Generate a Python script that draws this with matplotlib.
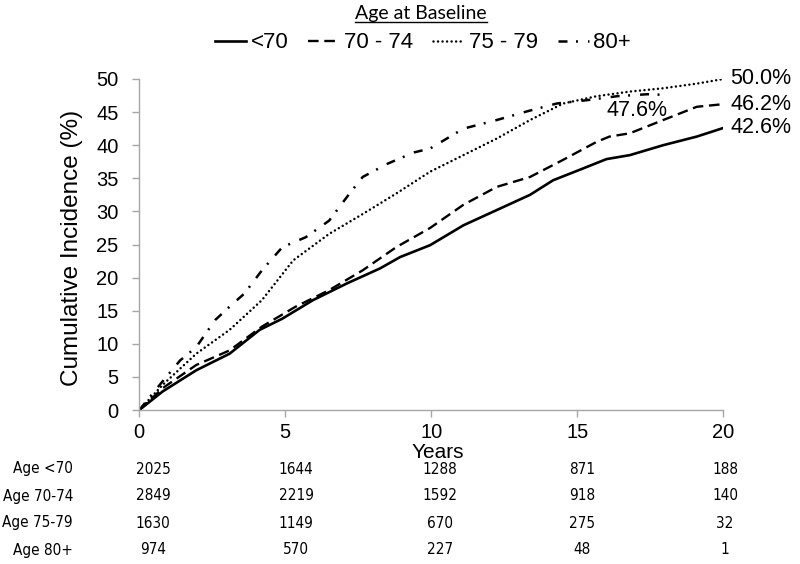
import matplotlib
matplotlib.use('Agg')
import matplotlib.pyplot as plt
from matplotlib import font_manager
from matplotlib.lines import Line2D

plt.rcParams['font.family'] = ['Liberation Sans', 'DejaVu Sans']

# cumulative incidence (%), by age group at baseline
yrs_lt70 = [0, 0.8, 1.95, 3.09, 4.12, 4.9, 5.95, 7.1, 8.25, 8.93, 9.96, 11.1, 12.24,
            13.38, 14.17, 15.09, 16.0, 16.8, 17.94, 19.09, 20]
inc_lt70 = [0, 2.8, 6.0, 8.5, 12.1, 13.8, 16.6, 19.1, 21.4, 23.1, 24.9, 27.9, 30.2,
            32.5, 34.7, 36.3, 37.9, 38.5, 40.0, 41.3, 42.6]

yrs_70_74 = [0, 0.8, 1.95, 3.09, 4.2, 5.35, 6.5, 7.65, 8.8, 9.96, 11.1, 12.24, 13.38,
             14.52, 15.66, 16.1, 16.8, 17.94, 19.09, 20]
inc_70_74 = [0, 3.3, 6.8, 9.0, 12.6, 15.6, 18.1, 21.1, 24.6, 27.5, 31.0, 33.7, 35.2,
             37.8, 40.5, 41.3, 41.8, 43.8, 45.8, 46.2]

yrs_75_79 = [0, 0.8, 1.95, 3.09, 4.2, 5.27, 6.5, 7.65, 8.8, 9.96, 11.1, 12.24, 13.38,
             14.52, 15.66, 16.8, 17.94, 19.09, 20]
inc_75_79 = [0, 3.8, 8.5, 12.1, 16.6, 22.6, 26.6, 29.6, 32.7, 36.0, 38.5, 41.0, 43.8,
             46.3, 47.4, 48.1, 48.6, 49.3, 50.0]

yrs_80 = [0, 0.7, 1.4, 1.95, 2.6, 3.09, 3.6, 4.2, 4.9, 5.7, 6.5, 7.2, 7.65, 8.5, 9.4,
          9.96, 11.1, 12.24, 13.27, 14.3, 15.33, 16.36, 17.4, 18.0]
inc_80 = [0, 3.8, 7.5, 9.5, 13.6, 15.6, 17.6, 21.1, 24.6, 26.1, 28.6, 32.7, 35.2, 37.2,
          38.9, 39.5, 42.5, 43.8, 45.1, 46.3, 46.8, 47.4, 47.7, 47.6]

groups = ['<70', '70 - 74', '75 - 79', '80+']
end_labels = ['42.6%', '46.2%', '50.0%', '47.6%']

# numbers at risk
risk_rows = ['Age <70', 'Age 70-74', 'Age 75-79', 'Age 80+']
risk_lt70 = [2025, 1644, 1288, 871, 188]
risk_70_74 = [2849, 2219, 1592, 918, 140]
risk_75_79 = [1630, 1149, 670, 275, 32]
risk_80 = [974, 570, 227, 48, 1]

# a narrow face for the at-risk table, if one is around
names = {(f.name, f.stretch) for f in font_manager.fontManager.ttflist}
if any(n == 'Liberation Sans Narrow' for n, _ in names):
    tab_font = dict(family='Liberation Sans Narrow', fontsize=12.5)
elif ('DejaVu Sans', 'condensed') in names or ('DejaVu Sans Condensed', 'condensed') in names:
    fam = 'DejaVu Sans' if ('DejaVu Sans', 'condensed') in names else 'DejaVu Sans Condensed'
    tab_font = dict(family=fam, fontstretch='condensed', fontsize=11)
else:
    tab_font = dict(family='Liberation Sans', fontsize=10.5)

W, H = 800, 564
fig = plt.figure(figsize=(8, 5.64), dpi=100)
ax = fig.add_axes([139.3/W, 1-410/H, 584/W, 331/H])

styles = [
    dict(linestyle='-', linewidth=1.9),
    dict(linestyle=(0, (4.5, 2.4)), linewidth=1.7),
    dict(linestyle=(0, (0.01, 1.8)), linewidth=1.8, dash_capstyle='round'),
    dict(linestyle=(0, (3.6, 3.4, 0.8, 4.0)), linewidth=1.8),
]
series = [(yrs_lt70, inc_lt70), (yrs_70_74, inc_70_74), (yrs_75_79, inc_75_79), (yrs_80, inc_80)]
handles = []
for (xs, ys), st, lab in zip(series, styles, groups):
    ln, = ax.plot(xs, ys, color='black', label=lab, **st)
    handles.append(ln)

# end-of-curve labels
for (xs, ys), txt in zip(series[:3], end_labels[:3]):
    ax.annotate(txt, xy=(xs[-1], ys[-1]), xytext=(5, 0), textcoords='offset points',
                ha='left', va='center', fontsize=15.5, annotation_clip=False)
ax.annotate(end_labels[3], xy=(yrs_80[-1], inc_80[-1]), xytext=(-20, -11.5),
            textcoords='offset points', ha='center', va='center', fontsize=15.5)

ax.set_xlim(0, 20)
ax.set_ylim(0, 50)
ax.set_xticks([0, 5, 10, 15, 20])
ax.set_yticks(range(0, 51, 5))
for s in ['top', 'right']:
    ax.spines[s].set_visible(False)
for s in ['left', 'bottom']:
    ax.spines[s].set_color('#a6a6a6')
    ax.spines[s].set_linewidth(1.0)
ax.tick_params(axis='both', colors='#a6a6a6', labelcolor='black', labelsize=14.5,
               length=5, width=1.0, direction='out')
ax.tick_params(axis='y', pad=10)
ax.tick_params(axis='x', pad=4)

ax.set_ylabel('Cumulative Incidence (%)', fontsize=17.5)
ax.yaxis.set_label_coords(-0.115, 0.49)
ax.yaxis.label.set_va('center')
ax.set_xlabel('Years', fontsize=15)
ax.xaxis.set_label_coords(0.511, -43/331)
ax.xaxis.label.set_va('center')

# legend
leg = fig.legend(handles=handles, loc='center', bbox_to_anchor=(423/W, 1-43/H), ncol=4,
                 frameon=False, fontsize=16, handlelength=1.4, handletextpad=0.2,
                 columnspacing=0.9)

# underlined title
title = fig.text(421/W, 1-13/H, 'Age at Baseline', ha='center', va='center',
                 fontsize=14, family=['Lato', 'DejaVu Sans'])
fig.canvas.draw()
bb = title.get_window_extent().transformed(fig.transFigure.inverted())
fig.add_artist(Line2D([bb.x0, bb.x1], [1-22/H, 1-22/H], color='black', linewidth=1.0,
                      transform=fig.transFigure))

# numbers at risk table
col_px = [153, 296, 440, 582, 725]
row_py = [469, 496, 523, 550]
for name, vals, py in zip(risk_rows, [risk_lt70, risk_70_74, risk_75_79, risk_80], row_py):
    fig.text(73/W, 1-py/H, name, ha='right', va='center', **tab_font)
    for v, px in zip(vals, col_px):
        fig.text(px/W, 1-py/H, str(v), ha='center', va='center', **tab_font)

fig.savefig('out.png', dpi=100)
